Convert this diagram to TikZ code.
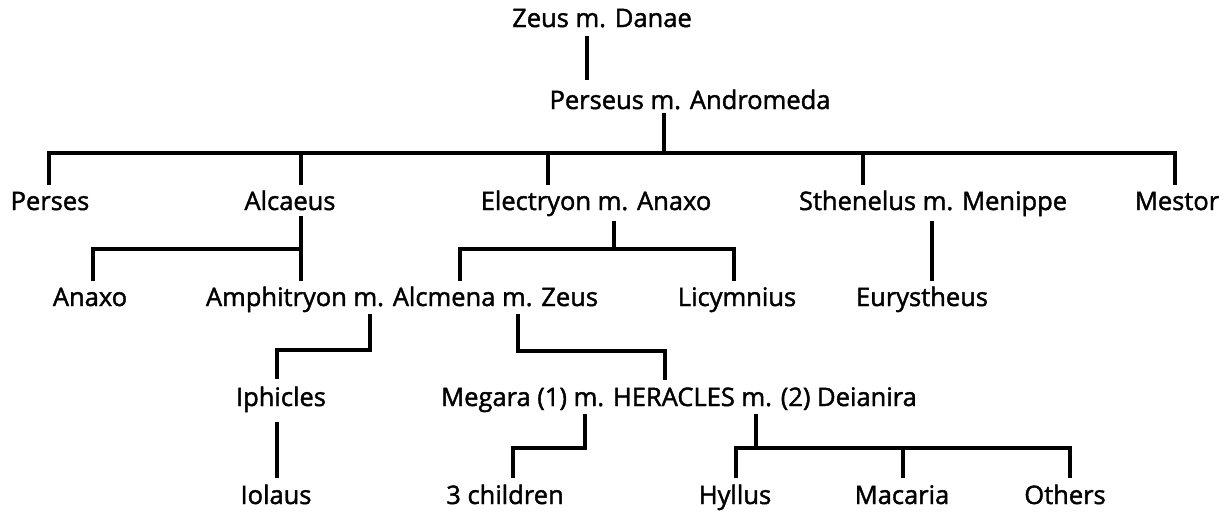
\documentclass[tikz,border=0pt]{standalone}
\usepackage{fontspec}
\setmainfont{Open Sans}[FakeBold=1.6,BoldFont={Open Sans},BoldFeatures={FakeBold=1.6}]
\begin{document}
\begin{tikzpicture}[x=1pt,y=-1pt,
  person/.style={anchor=base, inner sep=0pt, font=\fontsize{25.5}{30}\selectfont},
  link/.style={line width=4pt, line join=miter}]
\useasboundingbox[fill=white] (0,0) rectangle (1226,515);
% row 0/1
\node[person] (zeus) at (602,27) {Zeus m. Danae};
\node[person] (perseus) at (690,109) {Perseus m. Andromeda};
% row 2
\node[person] (perses) at (50,210) {Perses};
\node[person] (alcaeus) at (290,210) {Alcaeus};
\node[person] (electryon) at (596,210) {Electryon m. Anaxo};
\node[person] (sthenelus) at (933,210) {Sthenelus m. Menippe};
\node[person] (mestor) at (1177,210) {Mestor};
% row 3
\node[person] (anaxo) at (90,306) {Anaxo};
\node[person] (amphi) at (402,306) {Amphitryon m. Alcmena m. Zeus};
\node[person] (licym) at (737,306) {Licymnius};
\node[person] (euryst) at (922,306) {Eurystheus};
% row 4
\node[person] (iphicles) at (281,406) {Iphicles};
\node[person] (heracles) at (679,406) {Megara (1) m. HERACLES m. (2) Deianira};
% row 5
\node[person] (iolaus) at (276,504) {Iolaus};
\node[person] (three) at (505,504) {3 children};
\node[person] (hyllus) at (735,504) {Hyllus};
\node[person] (macaria) at (902,504) {Macaria};
\node[person] (others) at (1065,504) {Others};
% connectors
\draw[link] (587,36) -- (587,80);
\draw[link] (664,113) -- (664,153);
\draw[link] (49,185) -- (49,153) -- (1175,153) -- (1175,185);
\draw[link] (301,153) -- (301,185);
\draw[link] (548,153) -- (548,185);
\draw[link] (863,153) -- (863,185);
\draw[link] (301,216) -- (301,281);
\draw[link] (93,281) -- (93,249) -- (301,249);
\draw[link] (614,221) -- (614,249);
\draw[link] (460,281) -- (460,249) -- (734,249) -- (734,281);
\draw[link] (932,221) -- (932,281);
\draw[link] (370,314) -- (370,350) -- (277,350) -- (277,379);
\draw[link] (518,314) -- (518,351) -- (665,351) -- (665,380);
\draw[link] (277,422) -- (277,478);
\draw[link] (585,414) -- (585,448) -- (513,448) -- (513,478);
\draw[link] (756,414) -- (756,448);
\draw[link] (736,478) -- (736,448) -- (1070,448) -- (1070,478);
\draw[link] (903,448) -- (903,478);
\end{tikzpicture}
\end{document}
